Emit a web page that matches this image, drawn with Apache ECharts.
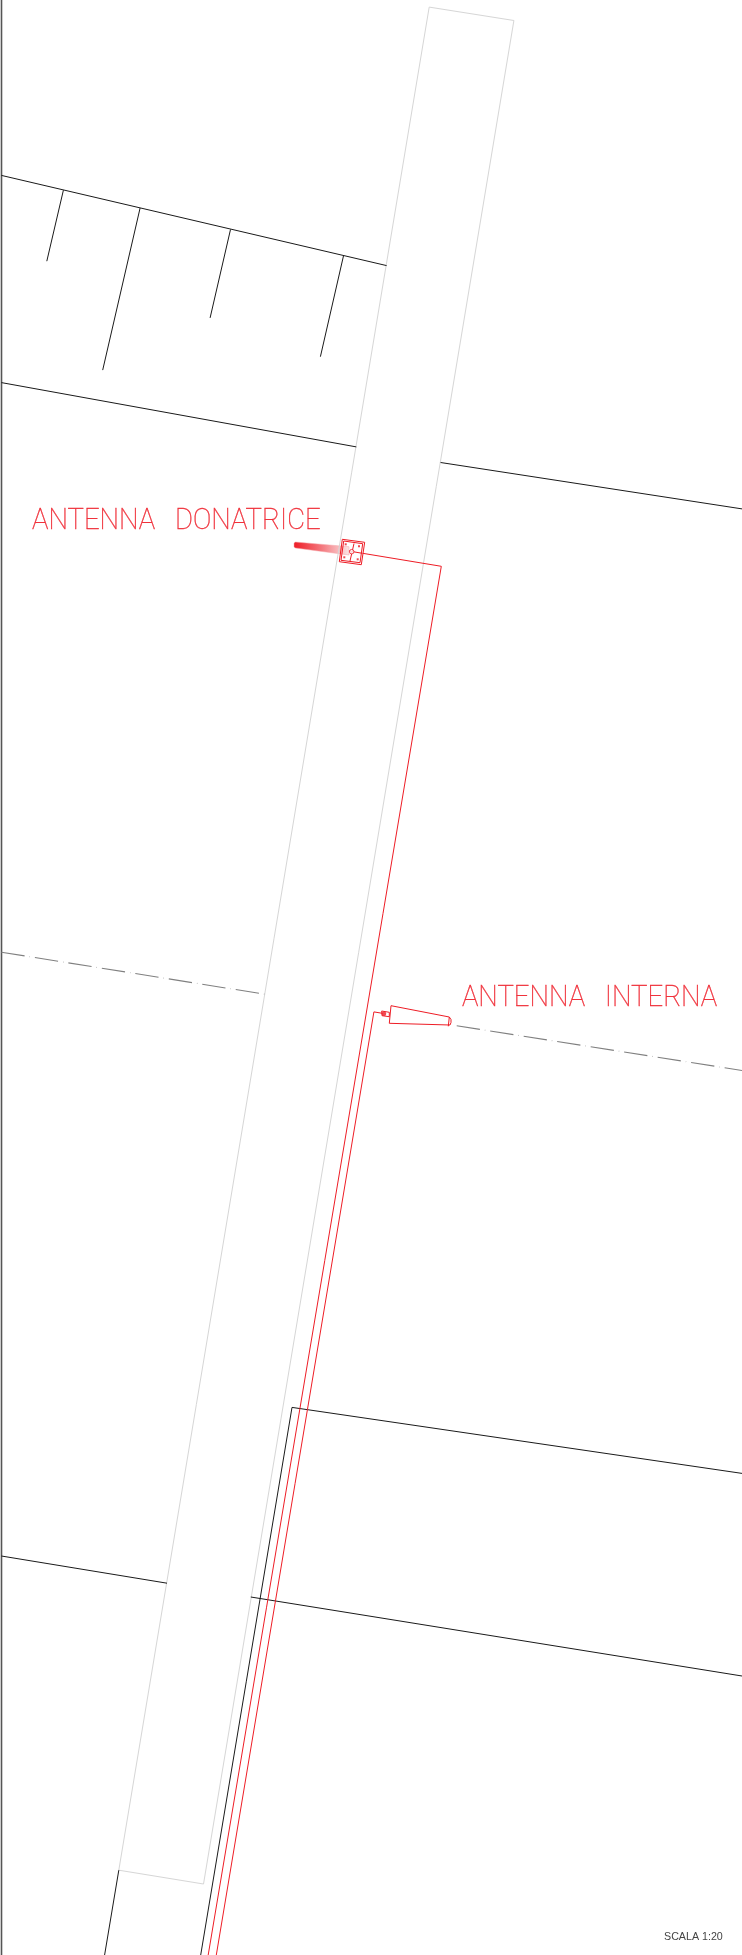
<!DOCTYPE html>
<html><head><meta charset="utf-8">
<style>html,body{margin:0;padding:0;background:#fff}#c{width:742px;height:1955px}</style>
<script src="https://cdn.jsdelivr.net/npm/echarts@6/dist/echarts.min.js"></script>
</head><body><div id="c"></div>
<script>
// Drawing coordinates (x, y in drawing units)
const leftEdge = [[1.5,0],[1.5,1955]];
const roadOutline = [[118.8,1870.2],[429.2,7.1],[513.9,20.5],[203.5,1884],[118.8,1870.2]];
const wallUpper = [[1.4,175.4],[386.6,265.6]];
const tick1 = [[63.4,190.2],[46.8,261.2]];
const tick2 = [[140.1,208],[102.7,370.1]];
const tick3 = [[230.5,229.5],[210.1,317.9]];
const tick4 = [[343.6,255.4],[320.4,356.7]];
const wallMidLeft = [[1.4,382.6],[356.3,446.9]];
const wallMidRight = [[440.6,462.5],[742,508.9]];
const wallLowLeft = [[1.4,1556],[167,1583.2]];
const wallLowRight = [[250.8,1597],[742,1676]];
const wallBottomA = [[118.8,1870.2],[104.6,1955]];
const wallBottomB = [[200.7,1955],[292,1407.4],[742,1473.4]];
const dashLeft = [[1.4,952.2],[265.5,994.3]];
const dashRight = [[456.7,1025.7],[742,1070.5]];
const cableA = [[362.7,553.3],[441.3,566.3],[208.2,1955]];
const cableB = [[216.3,1955],[373.9,1011.9],[382.4,1013.3]];
const squareOuter = [[342.3,539.3],[364.7,542.3],[361.3,564.7],[339.3,561.7],[342.3,539.3]];
const squareInner = [[343.7,541],[362.7,543.7],[360,562.7],[341,560.3],[343.7,541]];
const crossA = [[354,543.5],[350,561]];
const crossB = [[349,551],[362.3,553.3]];
const hub = [[351.7,551.7]];
const bolts = [[345.7,544.3],[359,546.3],[344.3,557.3],[357.7,559.3]];
const wedge = [[295.5,542],[349,546.7],[349,555],[295.5,548],[294,547],[294,543]];
const hornBody = [[391,1005.7],[449.3,1017],[451,1019.5],[451,1022.5],[450,1025],[448.3,1026.3],[389.3,1023.3],[391,1005.7]];
const hornCap = [[449.3,1017],[448.3,1026.3]];
const hornFeed = [[381.7,1011],[389.3,1012.3],[389.3,1016.7],[382,1015.7],[381.7,1011]];
const hornHub = [[384,1013.7]];
const labels = [
  ['ANTENNA   DONATRICE', 32, 536, '#f0323c'],
  ['ANTENNA   INTERNA', 461.9, 1013.2, '#f0323c']
];
const scaleNote = ['SCALA 1:20', 664, 1942.4];

const BLACK='#1a1a1a', GREY='#d6d6d6', RED='#ee1c25';
const line=(data,color,width,extra)=>({type:'line',data,symbol:'none',silent:true,animation:false,clip:true,
  lineStyle:Object.assign({color,width,cap:'butt'},extra||{})});

const series=[
  line(leftEdge,'#555',1.6),
  line(roadOutline,GREY,1),
  ...[wallUpper,tick1,tick2,tick3,tick4,wallMidLeft,wallMidRight,wallLowLeft,wallLowRight,wallBottomA,wallBottomB].map(d=>line(d,BLACK,1)),
  line(dashLeft,'#808080',1.1,{type:[23.5,5,0.4,5]}),
  line(dashRight,'#808080',1.1,{type:[23.5,5,0.4,5]}),
  line(cableA,RED,1),line(cableB,RED,1),
  line(squareOuter,RED,1),line(squareInner,RED,1),line(crossA,RED,1),line(crossB,RED,1),
  {type:'scatter',data:bolts,symbol:'rect',symbolSize:2,itemStyle:{color:RED},silent:true,animation:false},
  {type:'custom',silent:true,animation:false,data:[0],renderItem:(p,api)=>({type:'polygon',
    shape:{points:wedge.map(q=>api.coord(q))},
    style:{fill:new echarts.graphic.LinearGradient(0,0,1,0,[{offset:0,color:'#ee1c25'},{offset:0.5,color:'#f4777d'},{offset:1,color:'#fbe4e5'}]),stroke:'#f5a5a9',lineWidth:0.5}})},
  {type:'scatter',data:hub,symbol:'circle',symbolSize:4.5,itemStyle:{color:'#fff',borderColor:RED,borderWidth:1},silent:true,animation:false,z:5},
  line(hornBody,RED,1),line(hornCap,RED,1),line(hornFeed,RED,1),
  {type:'scatter',data:hornHub,symbol:'circle',symbolSize:4.5,itemStyle:{color:RED},silent:true,animation:false},
  {type:'custom',silent:true,animation:false,data:labels,encode:{x:1,y:2},
    renderItem:(p,api)=>{
      const l=labels[p.dataIndex];
      const c=api.coord([l[1],l[2]]);
      return {type:'text',x:c[0],y:c[1],scaleY:1.045,style:{text:l[0],fill:l[3],stroke:l[3],lineWidth:0.35,font:'100 27.5px Roboto',align:'left',verticalAlign:'bottom'}};
    }},
  {type:'custom',silent:true,animation:false,data:[scaleNote],
    renderItem:(p,api)=>{
      const c=api.coord([scaleNote[1],scaleNote[2]]);
      return {type:'text',x:c[0],y:c[1],style:{text:scaleNote[0],fill:'#444',font:'10.7px "Liberation Sans"',align:'left',verticalAlign:'bottom'}};
    }}
];
const chart=echarts.init(document.getElementById('c'),null,{renderer:'canvas'});
chart.setOption({
  backgroundColor:'#fff',animation:false,
  grid:{left:0,right:0,top:0,bottom:0},
  xAxis:{type:'value',min:0,max:742,show:false},
  yAxis:{type:'value',min:0,max:1955,inverse:true,show:false},
  tooltip:{show:false},legend:{show:false},
  series
});
</script></body></html>
